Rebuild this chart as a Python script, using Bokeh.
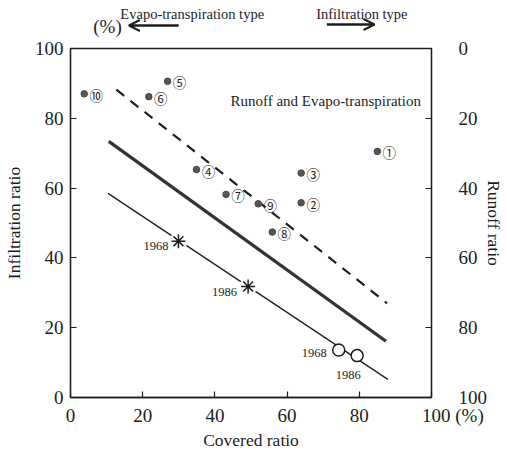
import math
from bokeh.plotting import figure
from bokeh.layouts import column
from bokeh.models import (Range1d, LinearAxis, Label, Arrow, OpenHead,
                          FixedTicker, ColumnDataSource)
from bokeh.core.properties import value
from bokeh.embed import file_html
from bokeh.resources import INLINE

# ---------------- data ----------------
site_ids = ["①", "②", "③", "④", "⑤", "⑥", "⑦", "⑧", "⑨", "⑩"]
site_cover = [85.0, 63.9, 63.9, 34.9, 26.9, 21.7, 43.1, 55.9, 52.0, 3.8]
site_infil = [70.5, 55.8, 64.3, 65.3, 90.6, 86.2, 58.2, 47.4, 55.5, 87.0]

dashed_x = [12.7, 87.7]
dashed_y = [88.2, 27.0]
thick_x = [10.6, 87.4]
thick_y = [73.4, 16.1]
thin_x = [10.4, 87.9]
thin_y = [58.5, 5.2]

star_years = ["1968", "1986"]
star_x = [29.9, 49.2]
star_y = [44.8, 31.8]
ring_years = ["1968", "1986"]
ring_x = [74.3, 79.4]
ring_y = [13.6, 12.0]

x_ticks = [0, 20, 40, 60, 80, 100]
y_ticks = [0, 20, 40, 60, 80, 100]
x_tick_labels = {100: "\u00a0" * 9 + "100\u00a0(%)"}

# ---------------- styles ----------------
SERIF = "Liberation Serif"
INK = "#1e1e1e"
TICK_FS = "19px"
TITLE_FS = "17.5px"
W = 507
TOP_H = 37

# ---------------- header strip (arrows + type captions) ----------------
top = figure(width=W, height=TOP_H, x_range=Range1d(0, W), y_range=Range1d(TOP_H, 0),
             output_backend="svg", toolbar_location=None,
             x_axis_location=None, y_axis_location=None,
             min_border_left=0, min_border_right=0, min_border_top=0, min_border_bottom=0)
top.grid.visible = False
top.outline_line_color = None


def lab(fig, text, x, y, size, align="left", angle=0.0):
    fig.add_layout(Label(x=x, y=y, text=text, text_font=SERIF, text_font_size=size,
                         text_color=INK, text_align=align, text_baseline="middle",
                         angle=angle))


lab(top, "Evapo-transpiration type", 70, 13, "14.5px")
lab(top, "Infiltration type", 345, 13, "14.5px")
lab(top, "(%)", 32, 26, TICK_FS)
top.add_layout(Arrow(end=OpenHead(size=11, line_width=2, line_color=INK),
                     x_start=152, y_start=25, x_end=82, y_end=25,
                     line_width=2.5, line_color=INK))
top.add_layout(Arrow(end=OpenHead(size=11, line_width=2, line_color=INK),
                     x_start=360, y_start=24, x_end=427, y_end=24,
                     line_width=2.5, line_color=INK))

# ---------------- main chart ----------------
p = figure(width=W, height=452 - TOP_H, x_range=Range1d(0, 100), y_range=Range1d(0, 100),
           output_backend="svg", toolbar_location=None,
           min_border_left=70, min_border_right=69, min_border_top=11, min_border_bottom=55)
p.extra_y_ranges = {"runoff": Range1d(start=100, end=0)}
p.grid.visible = False
p.outline_line_color = INK
p.outline_line_width = 1.3


def style_axis(ax, ticks, standoff, title, title_standoff):
    ax.ticker = FixedTicker(ticks=ticks)
    ax.major_tick_in = 6
    ax.major_tick_out = 0
    ax.minor_tick_line_color = None
    ax.axis_line_color = INK
    ax.axis_line_width = 1.3
    ax.major_tick_line_color = INK
    ax.major_tick_line_width = 1.2
    ax.major_label_text_font = SERIF
    ax.major_label_text_font_size = TICK_FS
    ax.major_label_text_color = INK
    ax.major_label_standoff = standoff
    ax.axis_label = title
    ax.axis_label_text_font = SERIF
    ax.axis_label_text_font_style = "normal"
    ax.axis_label_text_font_size = TITLE_FS
    ax.axis_label_text_color = INK
    ax.axis_label_standoff = title_standoff


style_axis(p.xaxis[0], x_ticks, 7, "Covered ratio", 1)
p.xaxis[0].major_label_overrides = x_tick_labels
style_axis(p.yaxis[0], y_ticks, 7, "Infiltration ratio", 8)

r_axis = LinearAxis(y_range_name="runoff")
style_axis(r_axis, y_ticks, 27, "Runoff ratio", -6)
p.add_layout(r_axis, "right")

# lines
p.line(dashed_x, dashed_y, line_color=INK, line_width=2.2, line_dash="10 8")
p.line(thick_x, thick_y, line_color="#333333", line_width=3.2)
p.line(thin_x, thin_y, line_color=INK, line_width=1.3)

# site points
src_sites = ColumnDataSource(dict(x=site_cover, y=site_infil, t=site_ids))
p.scatter("x", "y", source=src_sites, size=6.5, fill_color="#555555", line_color="#444444")
p.text("x", "y", text="t", source=src_sites, x_offset=12, y_offset=1,
       text_align="center", text_baseline="middle", text_font=value("Noto Sans CJK JP"),
       text_font_size="13.5px", text_color=INK)

# 1968 / 1986 asterisks
src_star = ColumnDataSource(dict(x=star_x, y=star_y, t=star_years,
                                 dx=[-10, -11], dy=[5, 5]))
p.scatter("x", "y", source=src_star, marker="circle", size=18,
          fill_color="white", line_color=None)
p.scatter("x", "y", source=src_star, marker="asterisk", size=14,
          line_color=INK, line_width=1.5)
p.text("x", "y", text="t", source=src_star, x_offset="dx", y_offset="dy",
       text_align="right", text_baseline="middle", text_font=value(SERIF),
       text_font_size="12.5px", text_color=INK)

# 1968 / 1986 open circles
src_ring = ColumnDataSource(dict(x=ring_x, y=ring_y, t=ring_years,
                                 dx=[-12, -9], dy=[3, 19],
                                 al=["right", "center"]))
p.scatter("x", "y", source=src_ring, marker="circle", size=12,
          fill_color="white", line_color=INK, line_width=1.5)
p.text("x", "y", text="t", source=src_ring, x_offset="dx", y_offset="dy",
       text_align="al", text_baseline="middle", text_font=value(SERIF),
       text_font_size="12.5px", text_color=INK)

lab(p, "Runoff and Evapo-transpiration", 44.3, 85.1, "15px")

layout = column(top, p, spacing=0)
open("out.html", "w").write(file_html(layout, INLINE))
